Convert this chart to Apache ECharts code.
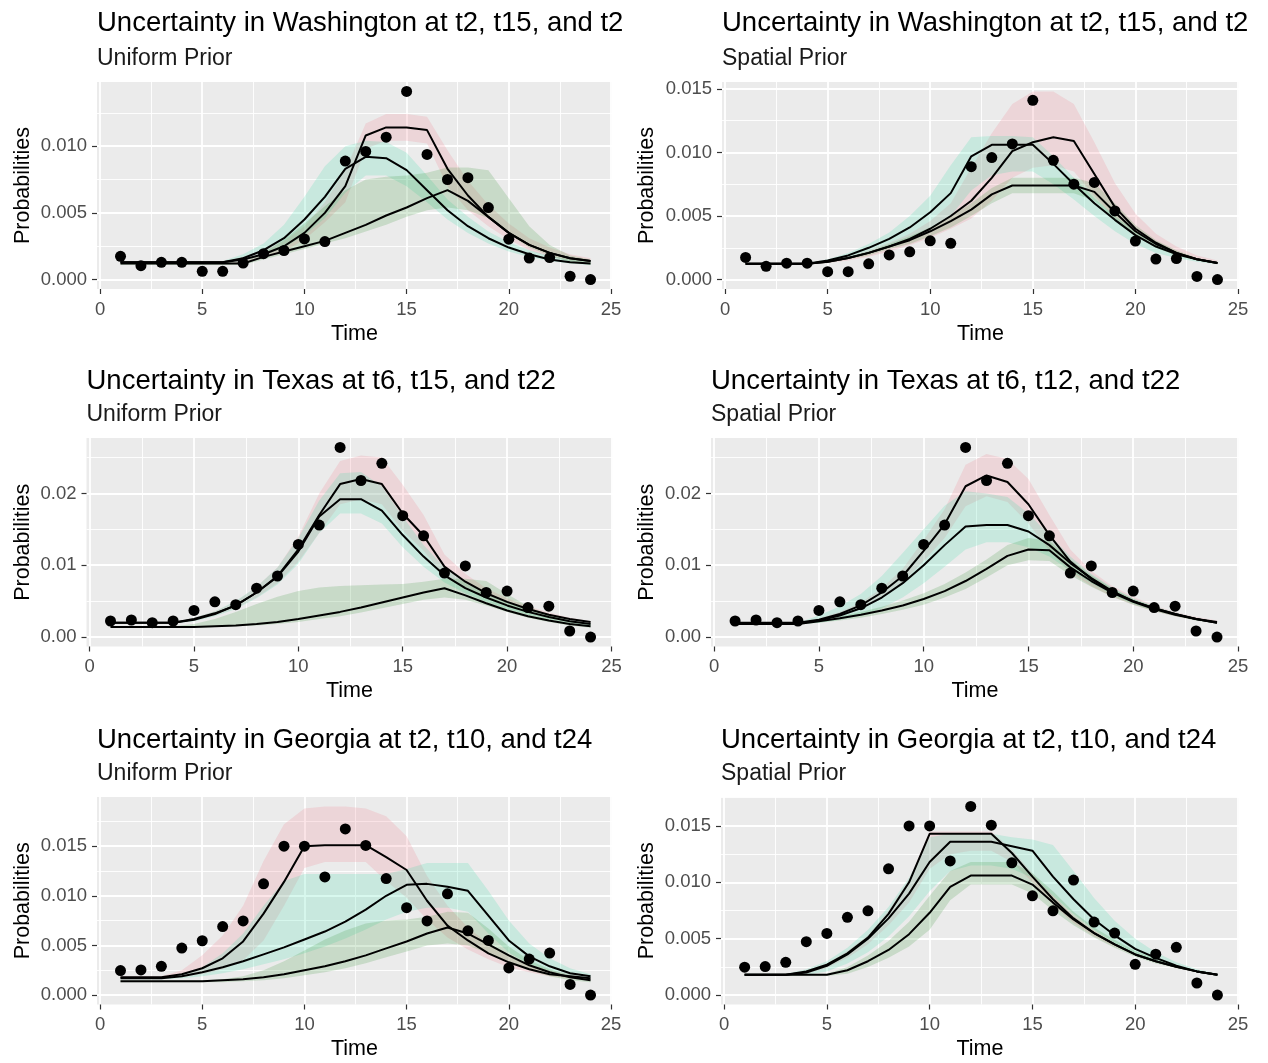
<!DOCTYPE html>
<html>
<head>
<meta charset="utf-8">
<script src="https://cdn.jsdelivr.net/npm/echarts@6/dist/echarts.min.js"></script>
<style>
html, body { margin: 0; padding: 0; background: #fff; }
#chart { width: 1268px; height: 1063px; }
</style>
</head>
<body>
<div id="chart"></div>
<script>
// time steps and axis ticks
const time = [1, 2, 3, 4, 5, 6, 7, 8, 9, 10, 11, 12, 13, 14, 15, 16, 17, 18, 19, 20, 21, 22, 23, 24];
const xTicks = [0, 5, 10, 15, 20, 25];
const xMinor = [2.5, 7.5, 12.5, 17.5, 22.5];

// observed probabilities
const waObs = [0.00174, 0.00104, 0.00129, 0.00129, 0.00062, 0.00062, 0.00124, 0.00194, 0.00218, 0.00305, 0.00285, 0.00888, 0.0096, 0.01067, 0.0141, 0.00938, 0.0075, 0.00764, 0.0054, 0.00303, 0.00161, 0.00165, 0.00025, 0.0];
const txObs = [0.00223, 0.00237, 0.0020, 0.00223, 0.0037, 0.0049, 0.0045, 0.0068, 0.0085, 0.0129, 0.0156, 0.0264, 0.0218, 0.0242, 0.0169, 0.0141, 0.0089, 0.0099, 0.0062, 0.0064, 0.0041, 0.0043, 0.00084, 0.0];
const gaObs = [0.00247, 0.00253, 0.0029, 0.00473, 0.00547, 0.0069, 0.00747, 0.0112, 0.0150, 0.0150, 0.0119, 0.01673, 0.01507, 0.01173, 0.0088, 0.00747, 0.0102, 0.00647, 0.0055, 0.00273, 0.00363, 0.00423, 0.00107, 0.0];

// Washington, uniform prior
const waUniRed = [0.0013, 0.0013, 0.0013, 0.0013, 0.0013, 0.0013, 0.0015, 0.0019, 0.0025, 0.0035, 0.0050, 0.0070, 0.0108, 0.0114, 0.0114, 0.0112, 0.0083, 0.0063, 0.0047, 0.0035, 0.0026, 0.0020, 0.0016, 0.0014];
const waUniCyan = [0.0013, 0.0013, 0.0013, 0.0013, 0.0013, 0.0013, 0.0016, 0.0022, 0.0031, 0.0045, 0.0062, 0.0083, 0.0092, 0.0091, 0.0082, 0.0067, 0.0052, 0.0040, 0.0031, 0.0024, 0.0019, 0.0015, 0.0013, 0.0012];
const waUniGreen = [0.0012, 0.0012, 0.0012, 0.0012, 0.0012, 0.0012, 0.0012, 0.0017, 0.0021, 0.0025, 0.0029, 0.0035, 0.0041, 0.0048, 0.0054, 0.0061, 0.0067, 0.0059, 0.0047, 0.0035, 0.0026, 0.0020, 0.0016, 0.0014];
const waUniRedHi = [0.0014, 0.0014, 0.0014, 0.0014, 0.0014, 0.0014, 0.0017, 0.0022, 0.0029, 0.0040, 0.0058, 0.0082, 0.0117, 0.0124, 0.0124, 0.0122, 0.0097, 0.0074, 0.0056, 0.0042, 0.0031, 0.0024, 0.0019, 0.0016];
const waUniRedLo = [0.0012, 0.0012, 0.0012, 0.0012, 0.0012, 0.0012, 0.0013, 0.0016, 0.0021, 0.0030, 0.0043, 0.0058, 0.0098, 0.0104, 0.0104, 0.0102, 0.0070, 0.0052, 0.0040, 0.0030, 0.0022, 0.0017, 0.0014, 0.0012];
const waUniCyanHi = [0.0014, 0.0014, 0.0014, 0.0014, 0.0014, 0.0014, 0.0019, 0.0027, 0.0041, 0.0062, 0.0085, 0.0100, 0.0104, 0.0103, 0.0095, 0.0078, 0.0060, 0.0047, 0.0036, 0.0028, 0.0022, 0.0018, 0.0015, 0.0014];
const waUniCyanLo = [0.0012, 0.0012, 0.0012, 0.0012, 0.0012, 0.0012, 0.0014, 0.0018, 0.0024, 0.0033, 0.0046, 0.0065, 0.0078, 0.0078, 0.0070, 0.0058, 0.0045, 0.0035, 0.0027, 0.0021, 0.0017, 0.0014, 0.0012, 0.0011];
const waUniGreenHi = [0.0013, 0.0013, 0.0013, 0.0013, 0.0013, 0.0013, 0.0013, 0.0020, 0.0030, 0.0042, 0.0055, 0.0067, 0.0075, 0.0077, 0.0078, 0.0080, 0.0084, 0.0084, 0.0082, 0.0061, 0.0040, 0.0026, 0.0018, 0.0015];
const waUniGreenLo = [0.0011, 0.0011, 0.0011, 0.0011, 0.0011, 0.0011, 0.0011, 0.0015, 0.0019, 0.0023, 0.0027, 0.0031, 0.0036, 0.0041, 0.0047, 0.0052, 0.0054, 0.0052, 0.0046, 0.0034, 0.0024, 0.0018, 0.0013, 0.0011];

// Washington, spatial prior
const waSpaRed = [0.00125, 0.00125, 0.00125, 0.00125, 0.0014, 0.0017, 0.0021, 0.0026, 0.0032, 0.0040, 0.0050, 0.0062, 0.0080, 0.0101, 0.0108, 0.0112, 0.0109, 0.0083, 0.0057, 0.0040, 0.0029, 0.0021, 0.0016, 0.0013];
const waSpaCyan = [0.00125, 0.00125, 0.00125, 0.00125, 0.0015, 0.0019, 0.0025, 0.0032, 0.0041, 0.0053, 0.0068, 0.0097, 0.0106, 0.0106, 0.0106, 0.0091, 0.0075, 0.0060, 0.0047, 0.0035, 0.0026, 0.0020, 0.0016, 0.0013];
const waSpaGreen = [0.00125, 0.00125, 0.00125, 0.00125, 0.0014, 0.0017, 0.0021, 0.0026, 0.0031, 0.0038, 0.0046, 0.0055, 0.0067, 0.0074, 0.0074, 0.0074, 0.0074, 0.0069, 0.0053, 0.0038, 0.0028, 0.0021, 0.0016, 0.0013];
const waSpaRedHi = [0.0013, 0.0013, 0.0013, 0.0013, 0.0015, 0.0018, 0.0023, 0.0029, 0.0036, 0.0046, 0.0060, 0.0088, 0.0115, 0.0138, 0.0148, 0.0148, 0.0138, 0.0108, 0.0076, 0.0052, 0.0036, 0.0026, 0.0019, 0.0015];
const waSpaRedLo = [0.0012, 0.0012, 0.0012, 0.0012, 0.0013, 0.0015, 0.0018, 0.0022, 0.0027, 0.0033, 0.0040, 0.0048, 0.0062, 0.0080, 0.0088, 0.0090, 0.0085, 0.0066, 0.0048, 0.0035, 0.0026, 0.0020, 0.0015, 0.0012];
const waSpaCyanHi = [0.0013, 0.0013, 0.0013, 0.0013, 0.0016, 0.0021, 0.0028, 0.0037, 0.0050, 0.0066, 0.0090, 0.0112, 0.0113, 0.0113, 0.0112, 0.0097, 0.0080, 0.0064, 0.0050, 0.0038, 0.0028, 0.0021, 0.0016, 0.0014];
const waSpaCyanLo = [0.0012, 0.0012, 0.0012, 0.0012, 0.0014, 0.0017, 0.0021, 0.0026, 0.0032, 0.0040, 0.0050, 0.0070, 0.0082, 0.0085, 0.0085, 0.0075, 0.0063, 0.0050, 0.0038, 0.0028, 0.0021, 0.0017, 0.0014, 0.0012];
const waSpaGreenHi = [0.0013, 0.0013, 0.0013, 0.0013, 0.0015, 0.0018, 0.0022, 0.0028, 0.0034, 0.0041, 0.0050, 0.0060, 0.0072, 0.0080, 0.0080, 0.0080, 0.0080, 0.0076, 0.0060, 0.0043, 0.0031, 0.0023, 0.0017, 0.0014];
const waSpaGreenLo = [0.0012, 0.0012, 0.0012, 0.0012, 0.0013, 0.0016, 0.0019, 0.0024, 0.0028, 0.0034, 0.0041, 0.0050, 0.0060, 0.0068, 0.0068, 0.0068, 0.0068, 0.0062, 0.0047, 0.0034, 0.0025, 0.0019, 0.0015, 0.0012];

// Texas, uniform prior
const txUniRed = [0.0020, 0.0020, 0.0020, 0.0020, 0.0025, 0.0033, 0.0044, 0.0062, 0.0085, 0.0122, 0.0170, 0.0213, 0.0220, 0.0213, 0.0172, 0.0141, 0.0098, 0.0077, 0.0061, 0.0049, 0.0039, 0.0031, 0.0025, 0.0021];
const txUniCyan = [0.0020, 0.0020, 0.0020, 0.0020, 0.0024, 0.0032, 0.0044, 0.0062, 0.0084, 0.0119, 0.0168, 0.0192, 0.0192, 0.0176, 0.0142, 0.0112, 0.0086, 0.0068, 0.0055, 0.0044, 0.0035, 0.0028, 0.0022, 0.0018];
const txUniGreen = [0.0014, 0.0014, 0.0014, 0.0014, 0.0014, 0.0015, 0.0016, 0.0018, 0.0021, 0.0025, 0.0030, 0.0035, 0.0041, 0.0048, 0.0055, 0.0062, 0.0068, 0.0058, 0.0047, 0.0037, 0.0029, 0.0023, 0.0018, 0.0015];
const txUniRedHi = [0.0021, 0.0021, 0.0021, 0.0021, 0.0027, 0.0036, 0.0049, 0.0070, 0.0097, 0.0140, 0.0200, 0.0245, 0.0253, 0.0250, 0.0212, 0.0170, 0.0115, 0.0088, 0.0068, 0.0054, 0.0043, 0.0034, 0.0027, 0.0022];
const txUniRedLo = [0.0019, 0.0019, 0.0019, 0.0019, 0.0023, 0.0030, 0.0040, 0.0055, 0.0075, 0.0105, 0.0145, 0.0185, 0.0192, 0.0185, 0.0148, 0.0120, 0.0085, 0.0068, 0.0055, 0.0044, 0.0035, 0.0028, 0.0023, 0.0019];
const txUniCyanHi = [0.0021, 0.0021, 0.0021, 0.0021, 0.0027, 0.0036, 0.0050, 0.0070, 0.0097, 0.0138, 0.0190, 0.0228, 0.0230, 0.0210, 0.0168, 0.0128, 0.0097, 0.0076, 0.0061, 0.0049, 0.0039, 0.0031, 0.0024, 0.0020];
const txUniCyanLo = [0.0019, 0.0019, 0.0019, 0.0019, 0.0022, 0.0029, 0.0039, 0.0054, 0.0073, 0.0102, 0.0145, 0.0172, 0.0172, 0.0158, 0.0125, 0.0098, 0.0076, 0.0061, 0.0049, 0.0039, 0.0031, 0.0025, 0.0020, 0.0016];
const txUniGreenHi = [0.0015, 0.0015, 0.0015, 0.0015, 0.0018, 0.0025, 0.0035, 0.0046, 0.0056, 0.0064, 0.0069, 0.0071, 0.0072, 0.0073, 0.0074, 0.0077, 0.0081, 0.0081, 0.0078, 0.0060, 0.0043, 0.0031, 0.0023, 0.0018];
const txUniGreenLo = [0.0013, 0.0013, 0.0013, 0.0013, 0.0013, 0.0014, 0.0015, 0.0016, 0.0018, 0.0021, 0.0025, 0.0029, 0.0034, 0.0040, 0.0046, 0.0052, 0.0055, 0.0052, 0.0044, 0.0035, 0.0027, 0.0021, 0.0016, 0.0013];

// Texas, spatial prior
const txSpaRed = [0.0020, 0.0020, 0.0020, 0.0020, 0.0024, 0.0032, 0.0044, 0.0062, 0.0085, 0.0120, 0.0157, 0.0210, 0.0225, 0.0216, 0.0185, 0.0142, 0.0105, 0.0081, 0.0063, 0.0050, 0.0040, 0.0032, 0.0025, 0.0021];
const txSpaCyan = [0.0019, 0.0019, 0.0019, 0.0019, 0.0023, 0.0030, 0.0040, 0.0055, 0.0075, 0.0100, 0.0128, 0.0154, 0.0156, 0.0156, 0.0147, 0.0128, 0.0103, 0.0082, 0.0064, 0.0050, 0.0040, 0.0032, 0.0025, 0.0020];
const txSpaGreen = [0.0018, 0.0018, 0.0018, 0.0018, 0.0022, 0.0026, 0.0031, 0.0037, 0.0044, 0.0053, 0.0064, 0.0078, 0.0095, 0.0113, 0.0122, 0.0121, 0.0097, 0.0078, 0.0062, 0.0049, 0.0039, 0.0031, 0.0025, 0.0020];
const txSpaRedHi = [0.0021, 0.0021, 0.0021, 0.0021, 0.0026, 0.0035, 0.0048, 0.0068, 0.0095, 0.0135, 0.0178, 0.0240, 0.0255, 0.0248, 0.0220, 0.0170, 0.0122, 0.0092, 0.0071, 0.0056, 0.0044, 0.0035, 0.0028, 0.0023];
const txSpaRedLo = [0.0019, 0.0019, 0.0019, 0.0019, 0.0022, 0.0029, 0.0040, 0.0056, 0.0076, 0.0106, 0.0138, 0.0182, 0.0196, 0.0188, 0.0158, 0.0120, 0.0090, 0.0071, 0.0056, 0.0045, 0.0036, 0.0029, 0.0023, 0.0019];
const txSpaCyanHi = [0.0020, 0.0020, 0.0020, 0.0020, 0.0030, 0.0043, 0.0060, 0.0085, 0.0117, 0.0150, 0.0183, 0.0203, 0.0200, 0.0195, 0.0172, 0.0142, 0.0112, 0.0088, 0.0069, 0.0054, 0.0043, 0.0034, 0.0027, 0.0022];
const txSpaCyanLo = [0.0018, 0.0018, 0.0018, 0.0018, 0.0020, 0.0024, 0.0030, 0.0040, 0.0055, 0.0075, 0.0098, 0.0122, 0.0132, 0.0132, 0.0125, 0.0112, 0.0092, 0.0075, 0.0059, 0.0046, 0.0037, 0.0030, 0.0023, 0.0019];
const txSpaGreenHi = [0.0019, 0.0019, 0.0019, 0.0019, 0.0024, 0.0029, 0.0035, 0.0042, 0.0051, 0.0061, 0.0074, 0.0090, 0.0108, 0.0128, 0.0138, 0.0134, 0.0108, 0.0086, 0.0068, 0.0053, 0.0042, 0.0033, 0.0026, 0.0021];
const txSpaGreenLo = [0.0017, 0.0017, 0.0017, 0.0017, 0.0020, 0.0023, 0.0027, 0.0032, 0.0038, 0.0045, 0.0055, 0.0067, 0.0083, 0.0100, 0.0107, 0.0106, 0.0086, 0.0070, 0.0056, 0.0045, 0.0036, 0.0029, 0.0023, 0.0019];

// Georgia, uniform prior
const gaUniRed = [0.0018, 0.0018, 0.0018, 0.0021, 0.0027, 0.0037, 0.0054, 0.0082, 0.0114, 0.0150, 0.0151, 0.0151, 0.0151, 0.0139, 0.0126, 0.0095, 0.0070, 0.0055, 0.0042, 0.0033, 0.0026, 0.0021, 0.0019, 0.0017];
const gaUniCyan = [0.0017, 0.0017, 0.0017, 0.0019, 0.0023, 0.0028, 0.0034, 0.0041, 0.0048, 0.0056, 0.0064, 0.0074, 0.0086, 0.0100, 0.0111, 0.0112, 0.0109, 0.0105, 0.0080, 0.0055, 0.0039, 0.0029, 0.0022, 0.0019];
const gaUniGreen = [0.0014, 0.0014, 0.0014, 0.0014, 0.0014, 0.0015, 0.0016, 0.0018, 0.0021, 0.0025, 0.0029, 0.0034, 0.0040, 0.0047, 0.0054, 0.0062, 0.0068, 0.0062, 0.0051, 0.0040, 0.0030, 0.0023, 0.0018, 0.0015];
const gaUniRedHi = [0.0019, 0.0019, 0.0019, 0.0025, 0.0040, 0.0060, 0.0090, 0.0135, 0.0172, 0.0188, 0.0190, 0.0190, 0.0188, 0.0180, 0.0160, 0.0120, 0.0090, 0.0068, 0.0052, 0.0040, 0.0031, 0.0025, 0.0021, 0.0018];
const gaUniRedLo = [0.0017, 0.0017, 0.0017, 0.0018, 0.0021, 0.0026, 0.0035, 0.0055, 0.0090, 0.0128, 0.0134, 0.0134, 0.0134, 0.0115, 0.0098, 0.0076, 0.0058, 0.0046, 0.0036, 0.0028, 0.0023, 0.0019, 0.0017, 0.0016];
const gaUniCyanHi = [0.0018, 0.0018, 0.0018, 0.0021, 0.0028, 0.0042, 0.0062, 0.0090, 0.0115, 0.0122, 0.0122, 0.0122, 0.0122, 0.0122, 0.0127, 0.0133, 0.0133, 0.0133, 0.0105, 0.0075, 0.0052, 0.0037, 0.0027, 0.0021];
const gaUniCyanLo = [0.0016, 0.0016, 0.0016, 0.0017, 0.0019, 0.0022, 0.0026, 0.0031, 0.0036, 0.0042, 0.0049, 0.0057, 0.0066, 0.0076, 0.0084, 0.0088, 0.0088, 0.0084, 0.0062, 0.0043, 0.0031, 0.0024, 0.0019, 0.0017];
const gaUniGreenHi = [0.0015, 0.0015, 0.0015, 0.0015, 0.0015, 0.0016, 0.0019, 0.0025, 0.0034, 0.0045, 0.0056, 0.0065, 0.0072, 0.0075, 0.0076, 0.0079, 0.0084, 0.0083, 0.0067, 0.0049, 0.0035, 0.0026, 0.0020, 0.0016];
const gaUniGreenLo = [0.0013, 0.0013, 0.0013, 0.0013, 0.0013, 0.0013, 0.0014, 0.0015, 0.0017, 0.0020, 0.0023, 0.0027, 0.0032, 0.0038, 0.0044, 0.0050, 0.0052, 0.0050, 0.0042, 0.0033, 0.0025, 0.0019, 0.0015, 0.0013];

// Georgia, spatial prior
const gaSpaRed = [0.0018, 0.0018, 0.0018, 0.0021, 0.0027, 0.0037, 0.0051, 0.0072, 0.0100, 0.0143, 0.0143, 0.0143, 0.0143, 0.0126, 0.0105, 0.0085, 0.0068, 0.0055, 0.0045, 0.0036, 0.0030, 0.0025, 0.0021, 0.0018];
const gaSpaCyan = [0.0018, 0.0018, 0.0018, 0.0020, 0.0026, 0.0036, 0.0050, 0.0068, 0.0090, 0.0118, 0.0136, 0.0136, 0.0136, 0.0132, 0.0128, 0.0105, 0.0085, 0.0067, 0.0053, 0.0041, 0.0033, 0.0026, 0.0021, 0.0018];
const gaSpaGreen = [0.0018, 0.0018, 0.0018, 0.0018, 0.0018, 0.0022, 0.0030, 0.0040, 0.0054, 0.0073, 0.0096, 0.0106, 0.0106, 0.0106, 0.0098, 0.0082, 0.0067, 0.0055, 0.0045, 0.0036, 0.0030, 0.0025, 0.0021, 0.0018];
const gaSpaRedHi = [0.0019, 0.0019, 0.0019, 0.0022, 0.0028, 0.0039, 0.0053, 0.0075, 0.0103, 0.0145, 0.0145, 0.0145, 0.0145, 0.0129, 0.0108, 0.0088, 0.0070, 0.0057, 0.0046, 0.0037, 0.0031, 0.0026, 0.0022, 0.0019];
const gaSpaRedLo = [0.0017, 0.0017, 0.0017, 0.0019, 0.0024, 0.0033, 0.0045, 0.0062, 0.0082, 0.0112, 0.0125, 0.0128, 0.0128, 0.0118, 0.0100, 0.0080, 0.0064, 0.0052, 0.0043, 0.0035, 0.0029, 0.0024, 0.0020, 0.0017];
const gaSpaCyanHi = [0.0019, 0.0019, 0.0019, 0.0023, 0.0030, 0.0042, 0.0058, 0.0078, 0.0104, 0.0140, 0.0143, 0.0143, 0.0143, 0.0140, 0.0138, 0.0133, 0.0110, 0.0086, 0.0066, 0.0050, 0.0038, 0.0029, 0.0023, 0.0019];
const gaSpaCyanLo = [0.0017, 0.0017, 0.0017, 0.0018, 0.0021, 0.0028, 0.0038, 0.0052, 0.0070, 0.0092, 0.0110, 0.0115, 0.0115, 0.0112, 0.0104, 0.0088, 0.0072, 0.0058, 0.0046, 0.0037, 0.0030, 0.0025, 0.0020, 0.0017];
const gaSpaGreenHi = [0.0019, 0.0019, 0.0019, 0.0019, 0.0019, 0.0025, 0.0035, 0.0048, 0.0065, 0.0088, 0.0110, 0.0118, 0.0118, 0.0118, 0.0108, 0.0092, 0.0074, 0.0060, 0.0049, 0.0039, 0.0032, 0.0026, 0.0022, 0.0019];
const gaSpaGreenLo = [0.0017, 0.0017, 0.0017, 0.0017, 0.0017, 0.0019, 0.0025, 0.0033, 0.0043, 0.0058, 0.0084, 0.0098, 0.0098, 0.0098, 0.0090, 0.0075, 0.0062, 0.0051, 0.0042, 0.0034, 0.0028, 0.0024, 0.0020, 0.0017];

// y tick labels per panel
const yTicks3 = [0, 0.005, 0.010];
const yTicks4 = [0, 0.005, 0.010, 0.015];
const yTicksTx = [0, 0.01, 0.02];
const yMinor3 = [0.0025, 0.0075, 0.0125];
const yMinor4 = [0.0025, 0.0075, 0.0125, 0.0175];
const yMinorTx = [0.005, 0.015, 0.025];

const FONT = '"Liberation Sans", Arial, Helvetica, sans-serif';
const RED_FILL = 'rgba(240, 125, 140, 0.2)';
const CYAN_FILL = 'rgba(60, 220, 170, 0.2)';
const GREEN_FILL = 'rgba(60, 150, 60, 0.2)';

const panels = [
    { title: 'Uncertainty in Washington at t2, t15, and t2', sub: 'Uniform Prior', obs: waObs,
      lines: [waUniRed, waUniCyan, waUniGreen],
      bands: [[waUniRedLo, waUniRedHi], [waUniCyanLo, waUniCyanHi], [waUniGreenLo, waUniGreenHi]],
      yTicks: yTicks3, yMinor: yMinor3, dec: 3,
      box: { left: 97, top: 82, width: 515, height: 207 }, col: 0, titleTop: 7, subTop: 46 },
    { title: 'Uncertainty in Washington at t2, t15, and t2', sub: 'Spatial Prior', obs: waObs,
      lines: [waSpaRed, waSpaCyan, waSpaGreen],
      bands: [[waSpaRedLo, waSpaRedHi], [waSpaCyanLo, waSpaCyanHi], [waSpaGreenLo, waSpaGreenHi]],
      yTicks: yTicks4, yMinor: yMinor3, dec: 3,
      box: { left: 722, top: 82, width: 517, height: 207 }, col: 1, titleTop: 7, subTop: 46 },
    { title: 'Uncertainty in Texas at t6, t15, and t22', sub: 'Uniform Prior', obs: txObs,
      lines: [txUniRed, txUniCyan, txUniGreen],
      bands: [[txUniRedLo, txUniRedHi], [txUniCyanLo, txUniCyanHi], [txUniGreenLo, txUniGreenHi]],
      yTicks: yTicksTx, yMinor: yMinorTx, dec: 2,
      box: { left: 86.5, top: 438, width: 526, height: 208.5 }, col: 0, titleTop: 365.5, subTop: 402 },
    { title: 'Uncertainty in Texas at t6, t12, and t22', sub: 'Spatial Prior', obs: txObs,
      lines: [txSpaRed, txSpaCyan, txSpaGreen],
      bands: [[txSpaRedLo, txSpaRedHi], [txSpaCyanLo, txSpaCyanHi], [txSpaGreenLo, txSpaGreenHi]],
      yTicks: yTicksTx, yMinor: yMinorTx, dec: 2,
      box: { left: 711, top: 438, width: 528, height: 208.5 }, col: 1, titleTop: 365.5, subTop: 402 },
    { title: 'Uncertainty in Georgia at t2, t10, and t24', sub: 'Uniform Prior', obs: gaObs,
      lines: [gaUniRed, gaUniCyan, gaUniGreen],
      bands: [[gaUniRedLo, gaUniRedHi], [gaUniCyanLo, gaUniCyanHi], [gaUniGreenLo, gaUniGreenHi]],
      yTicks: yTicks4, yMinor: yMinor4, dec: 3,
      box: { left: 97, top: 797, width: 515, height: 207.5 }, col: 0, titleTop: 724, subTop: 761 },
    { title: 'Uncertainty in Georgia at t2, t10, and t24', sub: 'Spatial Prior', obs: gaObs,
      lines: [gaSpaRed, gaSpaCyan, gaSpaGreen],
      bands: [[gaSpaRedLo, gaSpaRedHi], [gaSpaCyanLo, gaSpaCyanHi], [gaSpaGreenLo, gaSpaGreenHi]],
      yTicks: yTicks4, yMinor: yMinor4, dec: 3,
      box: { left: 721, top: 797, width: 518, height: 207.5 }, col: 1, titleTop: 724, subTop: 761 }
];
const bandFills = [RED_FILL, CYAN_FILL, GREEN_FILL];

const chart = echarts.init(document.getElementById('chart'));

const titles = [], grids = [], xAxes = [], yAxes = [], series = [];

panels.forEach((p, i) => {
    // ggplot style 5% expansion of the data range
    const dataMax = Math.max(...p.obs, ...p.bands.map(b => Math.max(...b[1])));
    const yMin = -0.05 * dataMax;
    const yMax = 1.05 * dataMax;

    titles.push({
        text: p.title, left: p.box.left, top: p.titleTop, padding: 0,
        textStyle: { fontSize: 27.5, fontWeight: 'normal', color: '#000', fontFamily: FONT, lineHeight: 32 }
    });
    titles.push({
        text: p.sub, left: p.box.left, top: p.subTop, padding: 0,
        textStyle: { fontSize: 23, fontWeight: 'normal', color: '#1a1a1a', fontFamily: FONT, lineHeight: 26 }
    });

    grids.push(Object.assign({
        show: true, backgroundColor: '#EBEBEB', borderWidth: 0, borderColor: 'transparent',
        outerBoundsMode: 'none'
    }, p.box));

    const nameBoxRight = p.col === 0 ? 34 : 658;

    // main axes: ticks, labels, major grid
    xAxes.push({
        type: 'value', gridIndex: i, min: -0.15, max: 25.05,
        axisLine: { show: false, onZero: false },
        axisTick: { show: true, length: 5, customValues: xTicks, lineStyle: { color: '#333', width: 1.2 } },
        axisLabel: { customValues: xTicks, fontSize: 18.5, color: '#4D4D4D', margin: 11, fontFamily: FONT },
        splitLine: { show: true, lineStyle: { color: '#fff', width: 1.8 } },
        name: 'Time', nameLocation: 'middle', nameGap: 34,
        nameTextStyle: { fontSize: 21.5, color: '#000', fontFamily: FONT }
    });
    // minor grid only
    xAxes.push({
        type: 'value', gridIndex: i, min: -0.15, max: 25.05, position: 'bottom',
        axisLine: { show: false, onZero: false }, axisLabel: { show: false },
        axisTick: { show: false, customValues: xMinor },
        splitLine: { show: true, lineStyle: { color: '#fff', width: 0.9 } }
    });
    yAxes.push({
        type: 'value', gridIndex: i, min: yMin, max: yMax,
        axisLine: { show: false, onZero: false },
        axisTick: { show: true, length: 5, customValues: p.yTicks, lineStyle: { color: '#333', width: 1.2 } },
        axisLabel: { customValues: p.yTicks, fontSize: 18.5, color: '#4D4D4D', margin: 10, fontFamily: FONT,
                     formatter: v => v.toFixed(p.dec) },
        splitLine: { show: true, lineStyle: { color: '#fff', width: 1.8 } },
        name: 'Probabilities', nameLocation: 'middle', nameGap: p.box.left - nameBoxRight,
        nameTextStyle: { fontSize: 21.5, color: '#000', fontFamily: FONT }
    });
    yAxes.push({
        type: 'value', gridIndex: i, min: yMin, max: yMax, position: 'left',
        axisLine: { show: false, onZero: false }, axisLabel: { show: false },
        axisTick: { show: false, customValues: p.yMinor },
        splitLine: { show: true, lineStyle: { color: '#fff', width: 0.9 } }
    });

    const xi = 2 * i, yi = 2 * i;

    // uncertainty bands
    p.bands.forEach((b, k) => {
        const lo = b[0], hi = b[1];
        series.push({
            type: 'custom', xAxisIndex: xi, yAxisIndex: yi, silent: true, z: 2,
            data: time.map((t, j) => [t, lo[j], hi[j]]),
            encode: { x: 0, y: [1, 2] },
            renderItem: (params, api) => {
                if (params.dataIndex !== 0) return null;
                const pts = time.map((t, j) => api.coord([t, hi[j]]));
                for (let j = time.length - 1; j >= 0; j--) pts.push(api.coord([time[j], lo[j]]));
                return { type: 'polygon', shape: { points: pts }, style: { fill: bandFills[k] } };
            }
        });
    });

    // model lines
    p.lines.forEach(l => {
        series.push({
            type: 'line', xAxisIndex: xi, yAxisIndex: yi, silent: true, z: 3,
            data: time.map((t, j) => [t, l[j]]),
            symbol: 'none', lineStyle: { color: '#000', width: 2 }
        });
    });

    // observed points
    series.push({
        type: 'scatter', xAxisIndex: xi, yAxisIndex: yi, silent: true, z: 4,
        data: time.map((t, j) => [t, p.obs[j]]),
        symbolSize: 11, itemStyle: { color: '#000', opacity: 1 }
    });
});

chart.setOption({
    animation: false,
    backgroundColor: '#fff',
    title: titles,
    grid: grids,
    xAxis: xAxes,
    yAxis: yAxes,
    series: series
});
</script>
</body>
</html>
